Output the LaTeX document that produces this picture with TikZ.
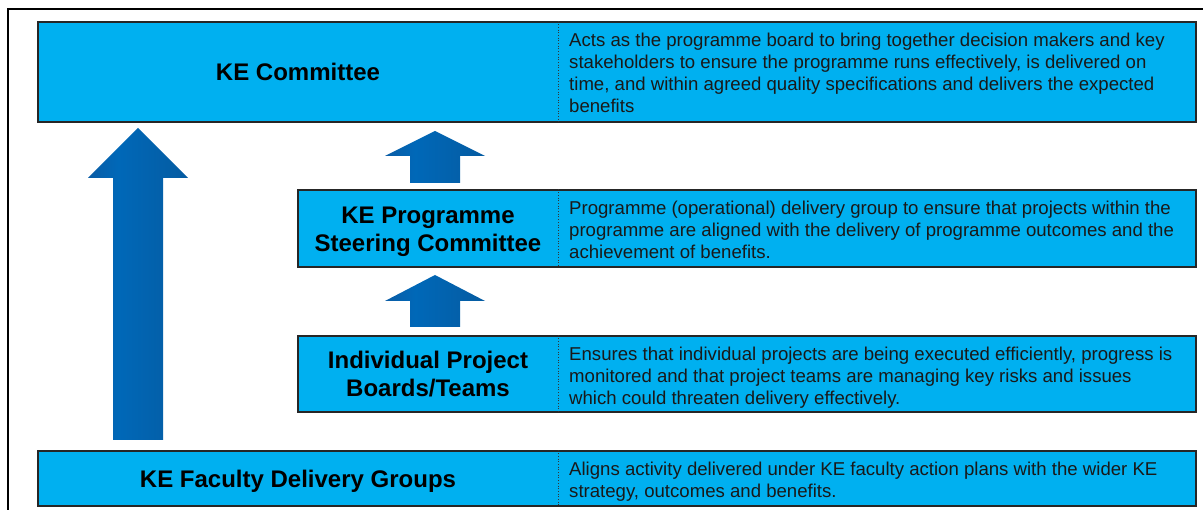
\documentclass[tikz,border=0pt]{standalone}
\usepackage{fontspec}
\setmainfont{Liberation Sans}
\usepackage{tikz}
\usetikzlibrary{positioning, calc}
\usepackage{xcolor}

\definecolor{KEBlue}{RGB}{0,176,240}
\definecolor{ArrowDark}{RGB}{28,74,135}
\definecolor{ArrowMid}{RGB}{0,104,184}
\definecolor{ArrowEdge}{RGB}{8,82,145}
\pgfdeclarehorizontalshading{keshade}{100bp}{color(0bp)=(ArrowDark); color(40bp)=(ArrowMid); color(100bp)=(ArrowEdge)}

\tikzset{
  kebox/.style={draw=black!85, line width=1.1pt, fill=KEBlue, inner sep=0pt},
  ketitle/.style={font=\fontsize{24}{28}\selectfont\bfseries, align=center, inner sep=0pt},
  kedesc/.style={font=\fontsize{18.6}{22}\selectfont, text=black!90, align=left, inner sep=0pt, anchor=north west},
  kedivider/.style={dotted, line width=0.7pt, black!80},
  kearrow/.style={shading=keshade, draw=none}
}

% block arrow: centre x, bottom y, head base y, tip y
\newcommand{\kearrowpath}[4]{%
  \path[kearrow] (#1-25,#2) -- (#1-25,#3) -- (#1-50,#3) -- (#1,#4) -- (#1+50,#3) -- (#1+25,#3) -- (#1+25,#2) -- cycle;}

\begin{document}
\begin{tikzpicture}[x=1pt, y=-1pt]
\useasboundingbox (0,0) rectangle (1203,510);
\draw[line width=2pt] (8,530) -- (8,9) -- (1230,9);

% the four levels
\node[kebox, minimum width=1158pt, minimum height=100pt] (committee) at (617,72) {};
\node[kebox, minimum width=898pt, minimum height=77pt] (steering) at (747,228.5) {};
\node[kebox, minimum width=898pt, minimum height=76pt] (boards) at (747,374) {};
\node[kebox, minimum width=1158pt, minimum height=55pt] (faculty) at (617,478.5) {};

\coordinate (split) at (558,0);
\foreach \b in {committee, steering, boards, faculty}
  \draw[kedivider] (\b.north -| split) -- (\b.south -| split);

% titles
\node[ketitle] (committeeTitle) at (298,72) {KE Committee};
\node[ketitle] (steeringTitle) at (428,232) {KE Programme\\Steering Committee};
\node[ketitle] (boardsTitle) at (428,374) {Individual Project\\Boards/Teams};
\node[ketitle] (facultyTitle) at (298,481) {KE Faculty Delivery Groups};

% descriptions
\node[kedesc] (committeeDesc) at ([shift={(11,11.5)}]committee.north -| split) {Acts as the programme board to bring together decision makers and key\\stakeholders to ensure the programme runs effectively, is delivered on\\time, and within agreed quality specifications and delivers the expected\\benefits};
\node[kedesc] (steeringDesc) at ([shift={(11,11.5)}]steering.north -| split) {Programme (operational) delivery group to ensure that projects within the\\programme are aligned with the delivery of programme outcomes and the\\achievement of benefits.};
\node[kedesc] (boardsDesc) at ([shift={(11,11.5)}]boards.north -| split) {Ensures that individual projects are being executed efficiently, progress is\\monitored and that project teams are managing key risks and issues\\which could threaten delivery effectively.};
\node[kedesc] (facultyDesc) at ([shift={(11,11.5)}]faculty.north -| split) {Aligns activity delivered under KE faculty action plans with the wider KE\\strategy, outcomes and benefits.};

% upward arrows
\kearrowpath{138}{440}{178}{128}
\kearrowpath{435}{183}{156}{131}
\kearrowpath{435}{327}{301}{275}
\end{tikzpicture}
\end{document}
